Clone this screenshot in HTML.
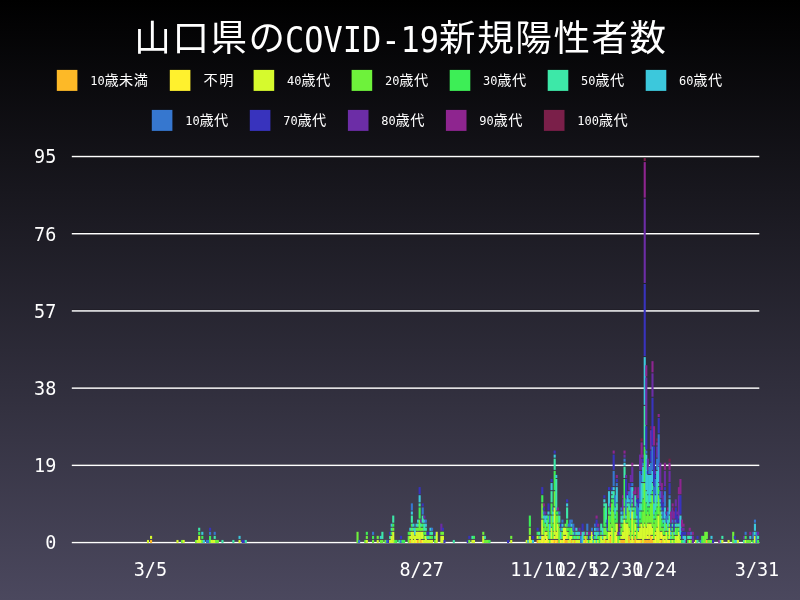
<!DOCTYPE html>
<html lang="ja"><head><meta charset="utf-8"><title>山口県のCOVID-19新規陽性者数</title>
<style>
html,body{margin:0;padding:0;background:#000;}
body{width:800px;height:600px;overflow:hidden;}
svg{display:block;}
text{font-family:"DejaVu Sans Mono","Liberation Mono","Noto Sans CJK JP",monospace;fill:#fff;}
.tj{font-size:36.5px;letter-spacing:1.6px;}
.cj{font-size:14.2px;letter-spacing:0.5px;}
</style></head><body>
<svg width="800" height="600" viewBox="0 0 800 600">
<defs><linearGradient id="bg" x1="0" y1="0" x2="0" y2="1"><stop offset="0" stop-color="#000"/><stop offset="1" stop-color="#4b485e"/></linearGradient></defs>
<rect width="800" height="600" fill="url(#bg)"/>
<text class="tj" x="134.3" y="51.3">山口県の</text><text font-size="32" transform="translate(285,52.3) scale(1,1.09)">COVID-19</text><text class="tj" x="439.1" y="51.3">新規陽性者数</text>
<rect x="56.8" y="69.9" width="20.6" height="21" fill="#FDB927"/><text font-size="12" transform="translate(90.2,84.7) scale(1,1.07)">10</text><text class="cj" x="104.4" y="84.8">歳未満</text>
<rect x="169.8" y="69.9" width="20.6" height="21" fill="#FFF12E"/><text class="cj" style="letter-spacing:1.7px" x="203.4" y="84.8">不明</text>
<rect x="253.6" y="69.9" width="20.6" height="21" fill="#D6FA2D"/><text font-size="12" transform="translate(287.0,84.7) scale(1,1.07)">40</text><text class="cj" x="301.2" y="84.8">歳代</text>
<rect x="351.6" y="69.9" width="20.6" height="21" fill="#6EF23B"/><text font-size="12" transform="translate(385.0,84.7) scale(1,1.07)">20</text><text class="cj" x="399.2" y="84.8">歳代</text>
<rect x="449.7" y="69.9" width="20.6" height="21" fill="#3DEE56"/><text font-size="12" transform="translate(483.1,84.7) scale(1,1.07)">30</text><text class="cj" x="497.3" y="84.8">歳代</text>
<rect x="547.7" y="69.9" width="20.6" height="21" fill="#3DE8A8"/><text font-size="12" transform="translate(581.1,84.7) scale(1,1.07)">50</text><text class="cj" x="595.3" y="84.8">歳代</text>
<rect x="645.7" y="69.9" width="20.6" height="21" fill="#3CC8DC"/><text font-size="12" transform="translate(679.1,84.7) scale(1,1.07)">60</text><text class="cj" x="693.3" y="84.8">歳代</text>
<rect x="151.8" y="109.9" width="20.6" height="21" fill="#3677CF"/><text font-size="12" transform="translate(185.2,124.7) scale(1,1.07)">10</text><text class="cj" x="199.4" y="124.8">歳代</text>
<rect x="249.8" y="109.9" width="20.6" height="21" fill="#3833BD"/><text font-size="12" transform="translate(283.2,124.7) scale(1,1.07)">70</text><text class="cj" x="297.4" y="124.8">歳代</text>
<rect x="347.9" y="109.9" width="20.6" height="21" fill="#6C2DA6"/><text font-size="12" transform="translate(381.3,124.7) scale(1,1.07)">80</text><text class="cj" x="395.5" y="124.8">歳代</text>
<rect x="445.9" y="109.9" width="20.6" height="21" fill="#8E258F"/><text font-size="12" transform="translate(479.3,124.7) scale(1,1.07)">90</text><text class="cj" x="493.5" y="124.8">歳代</text>
<rect x="543.9" y="109.9" width="20.6" height="21" fill="#7A1F49"/><text font-size="12" transform="translate(577.3,124.7) scale(1,1.07)">100</text><text class="cj" x="598.8" y="124.8">歳代</text>
<rect x="71.8" y="155.30" width="687.5" height="0.6" fill="#000" fill-opacity="0.5"/><rect x="71.8" y="155.80" width="687.5" height="1.45" fill="#fff"/><text font-size="18" text-anchor="end" transform="translate(56.3,163.2) scale(1.025,1.08)">95</text>
<rect x="71.8" y="232.50" width="687.5" height="0.6" fill="#000" fill-opacity="0.5"/><rect x="71.8" y="233.00" width="687.5" height="1.45" fill="#fff"/><text font-size="18" text-anchor="end" transform="translate(56.3,240.5) scale(1.025,1.08)">76</text>
<rect x="71.8" y="309.70" width="687.5" height="0.6" fill="#000" fill-opacity="0.5"/><rect x="71.8" y="310.20" width="687.5" height="1.45" fill="#fff"/><text font-size="18" text-anchor="end" transform="translate(56.3,317.7) scale(1.025,1.08)">57</text>
<rect x="71.8" y="386.90" width="687.5" height="0.6" fill="#000" fill-opacity="0.5"/><rect x="71.8" y="387.40" width="687.5" height="1.45" fill="#fff"/><text font-size="18" text-anchor="end" transform="translate(56.3,394.9) scale(1.025,1.08)">38</text>
<rect x="71.8" y="464.10" width="687.5" height="0.6" fill="#000" fill-opacity="0.5"/><rect x="71.8" y="464.60" width="687.5" height="1.45" fill="#fff"/><text font-size="18" text-anchor="end" transform="translate(56.3,472.1) scale(1.025,1.08)">19</text>
<rect x="71.8" y="541.30" width="687.5" height="0.6" fill="#000" fill-opacity="0.5"/><rect x="71.8" y="541.80" width="687.5" height="1.45" fill="#fff"/><text font-size="18" text-anchor="end" transform="translate(56.3,549.2) scale(1.025,1.08)">0</text>
<text font-size="18" text-anchor="middle" transform="translate(150.4,576.1) scale(1.025,1.08)">3/5</text>
<text font-size="18" text-anchor="middle" transform="translate(421.7,576.1) scale(1.025,1.08)">8/27</text>
<text font-size="18" text-anchor="middle" transform="translate(538.1,576.1) scale(1.025,1.08)">11/10</text>
<text font-size="18" text-anchor="middle" transform="translate(576.9,576.1) scale(1.025,1.08)">12/5</text>
<text font-size="18" text-anchor="middle" transform="translate(615.7,576.1) scale(1.025,1.08)">12/30</text>
<text font-size="18" text-anchor="middle" transform="translate(654.5,576.1) scale(1.025,1.08)">1/24</text>
<text font-size="18" text-anchor="middle" transform="translate(757.0,576.1) scale(1.025,1.08)">3/31</text>
<g id="bars"><g fill="#D6FA2D"><rect x="146.92" y="539.94" width="2.1" height="3.06"/></g><g fill="#FDB927"><rect x="150.02" y="539.94" width="2.1" height="3.06"/></g><g fill="#D6FA2D"><rect x="150.02" y="535.87" width="2.1" height="3.06"/><rect x="176.41" y="539.94" width="2.1" height="3.06"/></g><g fill="#6EF23B"><rect x="181.07" y="539.94" width="2.1" height="3.06"/></g><g fill="#D6FA2D"><rect x="182.62" y="539.94" width="2.1" height="3.06"/></g><g fill="#6EF23B"><rect x="195.04" y="539.94" width="2.1" height="3.06"/></g><g fill="#D6FA2D"><rect x="196.59" y="539.94" width="2.1" height="3.06"/><rect x="198.14" y="535.87" width="2.1" height="7.13"/></g><g fill="#3DEE56"><rect x="198.14" y="531.81" width="2.1" height="3.06"/></g><g fill="#3DE8A8"><rect x="198.14" y="527.75" width="2.1" height="3.06"/></g><g fill="#D6FA2D"><rect x="199.70" y="539.94" width="2.1" height="3.06"/></g><g fill="#6EF23B"><rect x="201.25" y="539.94" width="2.1" height="3.06"/></g><g fill="#3DEE56"><rect x="201.25" y="535.87" width="2.1" height="3.06"/></g><g fill="#3CC8DC"><rect x="201.25" y="531.81" width="2.1" height="3.06"/><rect x="202.80" y="539.94" width="2.1" height="3.06"/></g><g fill="#3677CF"><rect x="205.91" y="539.94" width="2.1" height="3.06"/><rect x="207.46" y="539.94" width="2.1" height="3.06"/></g><g fill="#3DEE56"><rect x="209.01" y="535.87" width="2.1" height="7.13"/></g><g fill="#3677CF"><rect x="209.01" y="531.81" width="2.1" height="3.06"/></g><g fill="#3833BD"><rect x="209.01" y="527.75" width="2.1" height="3.06"/></g><g fill="#D6FA2D"><rect x="210.56" y="539.94" width="2.1" height="3.06"/><rect x="212.12" y="539.94" width="2.1" height="3.06"/><rect x="213.67" y="539.94" width="2.1" height="3.06"/></g><g fill="#3DE8A8"><rect x="213.67" y="535.87" width="2.1" height="3.06"/></g><g fill="#3677CF"><rect x="213.67" y="531.81" width="2.1" height="3.06"/></g><g fill="#6EF23B"><rect x="215.22" y="539.94" width="2.1" height="3.06"/><rect x="216.77" y="539.94" width="2.1" height="3.06"/></g><g fill="#3DE8A8"><rect x="221.43" y="539.94" width="2.1" height="3.06"/><rect x="232.30" y="539.94" width="2.1" height="3.06"/></g><g fill="#D6FA2D"><rect x="238.51" y="539.94" width="2.1" height="3.06"/></g><g fill="#3CC8DC"><rect x="238.51" y="535.87" width="2.1" height="3.06"/></g><g fill="#3833BD"><rect x="241.61" y="539.94" width="2.1" height="3.06"/><rect x="243.16" y="539.94" width="2.1" height="3.06"/></g><g fill="#3DE8A8"><rect x="244.72" y="539.94" width="2.1" height="3.06"/></g><g fill="#6EF23B"><rect x="356.49" y="531.81" width="2.1" height="11.19"/></g><g fill="#3677CF"><rect x="358.04" y="539.94" width="2.1" height="3.06"/></g><g fill="#6EF23B"><rect x="364.25" y="539.94" width="2.1" height="3.06"/></g><g fill="#D6FA2D"><rect x="365.80" y="539.94" width="2.1" height="3.06"/></g><g fill="#6EF23B"><rect x="365.80" y="535.87" width="2.1" height="3.06"/></g><g fill="#3DEE56"><rect x="365.80" y="531.81" width="2.1" height="3.06"/></g><g fill="#6EF23B"><rect x="372.01" y="539.94" width="2.1" height="3.06"/></g><g fill="#3DEE56"><rect x="372.01" y="535.87" width="2.1" height="3.06"/></g><g fill="#3677CF"><rect x="372.01" y="531.81" width="2.1" height="3.06"/></g><g fill="#D6FA2D"><rect x="376.67" y="539.94" width="2.1" height="3.06"/></g><g fill="#6EF23B"><rect x="376.67" y="535.87" width="2.1" height="3.06"/><rect x="379.78" y="539.94" width="2.1" height="3.06"/></g><g fill="#3CC8DC"><rect x="379.78" y="535.87" width="2.1" height="3.06"/></g><g fill="#6EF23B"><rect x="381.33" y="539.94" width="2.1" height="3.06"/></g><g fill="#3DE8A8"><rect x="381.33" y="531.81" width="2.1" height="7.13"/></g><g fill="#6EF23B"><rect x="384.43" y="539.94" width="2.1" height="3.06"/></g><g fill="#3677CF"><rect x="385.98" y="539.94" width="2.1" height="3.06"/></g><g fill="#3833BD"><rect x="387.54" y="539.94" width="2.1" height="3.06"/></g><g fill="#D6FA2D"><rect x="389.09" y="539.94" width="2.1" height="3.06"/></g><g fill="#3DE8A8"><rect x="389.09" y="535.87" width="2.1" height="3.06"/></g><g fill="#3833BD"><rect x="389.09" y="531.81" width="2.1" height="3.06"/></g><g fill="#D6FA2D"><rect x="390.64" y="535.87" width="2.1" height="7.13"/></g><g fill="#3DEE56"><rect x="390.64" y="531.81" width="2.1" height="3.06"/></g><g fill="#3DE8A8"><rect x="390.64" y="527.75" width="2.1" height="3.06"/></g><g fill="#3CC8DC"><rect x="390.64" y="523.68" width="2.1" height="3.06"/></g><g fill="#D6FA2D"><rect x="392.19" y="531.81" width="2.1" height="11.19"/></g><g fill="#6EF23B"><rect x="392.19" y="527.75" width="2.1" height="3.06"/></g><g fill="#3DEE56"><rect x="392.19" y="523.68" width="2.1" height="3.06"/></g><g fill="#3DE8A8"><rect x="392.19" y="515.56" width="2.1" height="7.13"/></g><g fill="#6EF23B"><rect x="393.75" y="539.94" width="2.1" height="3.06"/></g><g fill="#3DEE56"><rect x="395.30" y="539.94" width="2.1" height="3.06"/></g><g fill="#3DE8A8"><rect x="398.40" y="539.94" width="2.1" height="3.06"/></g><g fill="#3677CF"><rect x="399.96" y="539.94" width="2.1" height="3.06"/></g><g fill="#3833BD"><rect x="399.96" y="535.87" width="2.1" height="3.06"/></g><g fill="#3DEE56"><rect x="401.51" y="539.94" width="2.1" height="3.06"/><rect x="403.06" y="539.94" width="2.1" height="3.06"/></g><g fill="#6EF23B"><rect x="407.72" y="535.87" width="2.1" height="7.13"/></g><g fill="#3DEE56"><rect x="407.72" y="531.81" width="2.1" height="3.06"/></g><g fill="#FDB927"><rect x="409.27" y="539.94" width="2.1" height="3.06"/></g><g fill="#D6FA2D"><rect x="409.27" y="535.87" width="2.1" height="3.06"/></g><g fill="#6EF23B"><rect x="409.27" y="531.81" width="2.1" height="3.06"/></g><g fill="#3CC8DC"><rect x="409.27" y="527.75" width="2.1" height="3.06"/></g><g fill="#D6FA2D"><rect x="410.82" y="531.81" width="2.1" height="11.19"/></g><g fill="#6EF23B"><rect x="410.82" y="527.75" width="2.1" height="3.06"/></g><g fill="#3DEE56"><rect x="410.82" y="523.68" width="2.1" height="3.06"/></g><g fill="#3DE8A8"><rect x="410.82" y="515.56" width="2.1" height="7.13"/></g><g fill="#3CC8DC"><rect x="410.82" y="511.50" width="2.1" height="3.06"/></g><g fill="#3677CF"><rect x="410.82" y="503.37" width="2.1" height="7.13"/></g><g fill="#FFF12E"><rect x="412.38" y="539.94" width="2.1" height="3.06"/></g><g fill="#D6FA2D"><rect x="412.38" y="531.81" width="2.1" height="7.13"/></g><g fill="#3DE8A8"><rect x="412.38" y="527.75" width="2.1" height="3.06"/></g><g fill="#3CC8DC"><rect x="412.38" y="523.68" width="2.1" height="3.06"/></g><g fill="#D6FA2D"><rect x="413.93" y="535.87" width="2.1" height="7.13"/></g><g fill="#3CC8DC"><rect x="413.93" y="527.75" width="2.1" height="7.13"/></g><g fill="#FFF12E"><rect x="415.48" y="539.94" width="2.1" height="3.06"/></g><g fill="#D6FA2D"><rect x="415.48" y="531.81" width="2.1" height="7.13"/></g><g fill="#6EF23B"><rect x="415.48" y="527.75" width="2.1" height="3.06"/></g><g fill="#3CC8DC"><rect x="415.48" y="523.68" width="2.1" height="3.06"/></g><g fill="#FDB927"><rect x="417.03" y="539.94" width="2.1" height="3.06"/></g><g fill="#D6FA2D"><rect x="417.03" y="531.81" width="2.1" height="7.13"/></g><g fill="#6EF23B"><rect x="417.03" y="527.75" width="2.1" height="3.06"/></g><g fill="#3DE8A8"><rect x="417.03" y="523.68" width="2.1" height="3.06"/></g><g fill="#3CC8DC"><rect x="417.03" y="519.62" width="2.1" height="3.06"/></g><g fill="#D6FA2D"><rect x="418.59" y="531.81" width="2.1" height="11.19"/></g><g fill="#6EF23B"><rect x="418.59" y="519.62" width="2.1" height="11.19"/></g><g fill="#3DEE56"><rect x="418.59" y="507.43" width="2.1" height="11.19"/></g><g fill="#3DE8A8"><rect x="418.59" y="503.37" width="2.1" height="3.06"/></g><g fill="#3CC8DC"><rect x="418.59" y="495.24" width="2.1" height="7.13"/></g><g fill="#3833BD"><rect x="418.59" y="487.12" width="2.1" height="7.13"/></g><g fill="#FDB927"><rect x="420.14" y="539.94" width="2.1" height="3.06"/></g><g fill="#D6FA2D"><rect x="420.14" y="531.81" width="2.1" height="7.13"/></g><g fill="#6EF23B"><rect x="420.14" y="527.75" width="2.1" height="3.06"/></g><g fill="#3DE8A8"><rect x="420.14" y="523.68" width="2.1" height="3.06"/></g><g fill="#6C2DA6"><rect x="420.14" y="519.62" width="2.1" height="3.06"/></g><g fill="#FFF12E"><rect x="421.69" y="539.94" width="2.1" height="3.06"/></g><g fill="#D6FA2D"><rect x="421.69" y="531.81" width="2.1" height="7.13"/></g><g fill="#6EF23B"><rect x="421.69" y="527.75" width="2.1" height="3.06"/></g><g fill="#3DEE56"><rect x="421.69" y="523.68" width="2.1" height="3.06"/></g><g fill="#3DE8A8"><rect x="421.69" y="515.56" width="2.1" height="7.13"/></g><g fill="#3677CF"><rect x="421.69" y="507.43" width="2.1" height="7.13"/></g><g fill="#3833BD"><rect x="421.69" y="503.37" width="2.1" height="3.06"/></g><g fill="#D6FA2D"><rect x="423.24" y="539.94" width="2.1" height="3.06"/></g><g fill="#6EF23B"><rect x="423.24" y="535.87" width="2.1" height="3.06"/></g><g fill="#3DEE56"><rect x="423.24" y="531.81" width="2.1" height="3.06"/></g><g fill="#3DE8A8"><rect x="423.24" y="523.68" width="2.1" height="7.13"/></g><g fill="#3CC8DC"><rect x="423.24" y="519.62" width="2.1" height="3.06"/></g><g fill="#6C2DA6"><rect x="423.24" y="515.56" width="2.1" height="3.06"/></g><g fill="#D6FA2D"><rect x="424.79" y="535.87" width="2.1" height="7.13"/></g><g fill="#6EF23B"><rect x="424.79" y="531.81" width="2.1" height="3.06"/></g><g fill="#3DE8A8"><rect x="424.79" y="527.75" width="2.1" height="3.06"/></g><g fill="#3CC8DC"><rect x="424.79" y="523.68" width="2.1" height="3.06"/></g><g fill="#3677CF"><rect x="424.79" y="519.62" width="2.1" height="3.06"/></g><g fill="#D6FA2D"><rect x="426.35" y="539.94" width="2.1" height="3.06"/></g><g fill="#3DE8A8"><rect x="426.35" y="535.87" width="2.1" height="3.06"/></g><g fill="#3833BD"><rect x="426.35" y="531.81" width="2.1" height="3.06"/></g><g fill="#D6FA2D"><rect x="427.90" y="539.94" width="2.1" height="3.06"/></g><g fill="#3DE8A8"><rect x="427.90" y="535.87" width="2.1" height="3.06"/></g><g fill="#3833BD"><rect x="427.90" y="531.81" width="2.1" height="3.06"/></g><g fill="#D6FA2D"><rect x="429.45" y="539.94" width="2.1" height="3.06"/></g><g fill="#6EF23B"><rect x="429.45" y="535.87" width="2.1" height="3.06"/></g><g fill="#3DE8A8"><rect x="429.45" y="531.81" width="2.1" height="3.06"/></g><g fill="#3CC8DC"><rect x="429.45" y="527.75" width="2.1" height="3.06"/></g><g fill="#D6FA2D"><rect x="431.00" y="539.94" width="2.1" height="3.06"/></g><g fill="#3DEE56"><rect x="431.00" y="535.87" width="2.1" height="3.06"/></g><g fill="#3DE8A8"><rect x="431.00" y="531.81" width="2.1" height="3.06"/></g><g fill="#3677CF"><rect x="431.00" y="527.75" width="2.1" height="3.06"/></g><g fill="#6EF23B"><rect x="434.11" y="539.94" width="2.1" height="3.06"/></g><g fill="#3DE8A8"><rect x="434.11" y="535.87" width="2.1" height="3.06"/></g><g fill="#3833BD"><rect x="434.11" y="531.81" width="2.1" height="3.06"/></g><g fill="#D6FA2D"><rect x="435.66" y="531.81" width="2.1" height="11.19"/><rect x="440.32" y="535.87" width="2.1" height="7.13"/></g><g fill="#6EF23B"><rect x="440.32" y="531.81" width="2.1" height="3.06"/></g><g fill="#6C2DA6"><rect x="440.32" y="523.68" width="2.1" height="7.13"/></g><g fill="#D6FA2D"><rect x="441.87" y="535.87" width="2.1" height="7.13"/></g><g fill="#6EF23B"><rect x="441.87" y="531.81" width="2.1" height="3.06"/></g><g fill="#3833BD"><rect x="441.87" y="527.75" width="2.1" height="3.06"/><rect x="443.42" y="539.94" width="2.1" height="3.06"/></g><g fill="#3DE8A8"><rect x="452.74" y="539.94" width="2.1" height="3.06"/></g><g fill="#3833BD"><rect x="466.71" y="539.94" width="2.1" height="3.06"/></g><g fill="#6EF23B"><rect x="468.26" y="539.94" width="2.1" height="3.06"/></g><g fill="#3833BD"><rect x="468.26" y="535.87" width="2.1" height="3.06"/></g><g fill="#D6FA2D"><rect x="471.37" y="539.94" width="2.1" height="3.06"/></g><g fill="#3DE8A8"><rect x="471.37" y="535.87" width="2.1" height="3.06"/></g><g fill="#D6FA2D"><rect x="472.92" y="539.94" width="2.1" height="3.06"/></g><g fill="#3DEE56"><rect x="472.92" y="535.87" width="2.1" height="3.06"/></g><g fill="#D6FA2D"><rect x="482.23" y="535.87" width="2.1" height="7.13"/></g><g fill="#6EF23B"><rect x="482.23" y="531.81" width="2.1" height="3.06"/><rect x="483.79" y="539.94" width="2.1" height="3.06"/></g><g fill="#3DE8A8"><rect x="483.79" y="535.87" width="2.1" height="3.06"/></g><g fill="#6EF23B"><rect x="485.34" y="539.94" width="2.1" height="3.06"/><rect x="486.89" y="539.94" width="2.1" height="3.06"/></g><g fill="#3DEE56"><rect x="488.44" y="539.94" width="2.1" height="3.06"/></g><g fill="#3833BD"><rect x="507.07" y="539.94" width="2.1" height="3.06"/></g><g fill="#D6FA2D"><rect x="510.18" y="539.94" width="2.1" height="3.06"/></g><g fill="#6EF23B"><rect x="510.18" y="535.87" width="2.1" height="3.06"/></g><g fill="#D6FA2D"><rect x="525.70" y="539.94" width="2.1" height="3.06"/></g><g fill="#3CC8DC"><rect x="527.25" y="539.94" width="2.1" height="3.06"/></g><g fill="#D6FA2D"><rect x="528.81" y="535.87" width="2.1" height="7.13"/></g><g fill="#6EF23B"><rect x="528.81" y="527.75" width="2.1" height="7.13"/></g><g fill="#3DEE56"><rect x="528.81" y="515.56" width="2.1" height="11.19"/></g><g fill="#D6FA2D"><rect x="530.36" y="539.94" width="2.1" height="3.06"/></g><g fill="#3CC8DC"><rect x="531.91" y="539.94" width="2.1" height="3.06"/></g><g fill="#3833BD"><rect x="531.91" y="535.87" width="2.1" height="3.06"/></g><g fill="#FDB927"><rect x="536.57" y="539.94" width="2.1" height="3.06"/></g><g fill="#D6FA2D"><rect x="536.57" y="535.87" width="2.1" height="3.06"/></g><g fill="#3DEE56"><rect x="536.57" y="531.81" width="2.1" height="3.06"/></g><g fill="#3833BD"><rect x="536.57" y="527.75" width="2.1" height="3.06"/></g><g fill="#D6FA2D"><rect x="538.12" y="539.94" width="2.1" height="3.06"/></g><g fill="#6EF23B"><rect x="538.12" y="535.87" width="2.1" height="3.06"/></g><g fill="#3DE8A8"><rect x="538.12" y="531.81" width="2.1" height="3.06"/></g><g fill="#D6FA2D"><rect x="539.67" y="539.94" width="2.1" height="3.06"/></g><g fill="#3CC8DC"><rect x="539.67" y="535.87" width="2.1" height="3.06"/></g><g fill="#FFF12E"><rect x="541.22" y="535.87" width="2.1" height="7.13"/></g><g fill="#D6FA2D"><rect x="541.22" y="519.62" width="2.1" height="15.25"/></g><g fill="#6EF23B"><rect x="541.22" y="503.37" width="2.1" height="15.25"/></g><g fill="#3DEE56"><rect x="541.22" y="495.24" width="2.1" height="7.13"/></g><g fill="#3833BD"><rect x="541.22" y="487.12" width="2.1" height="7.13"/></g><g fill="#D6FA2D"><rect x="542.78" y="535.87" width="2.1" height="7.13"/></g><g fill="#6EF23B"><rect x="542.78" y="527.75" width="2.1" height="7.13"/></g><g fill="#3DEE56"><rect x="542.78" y="519.62" width="2.1" height="7.13"/></g><g fill="#3CC8DC"><rect x="542.78" y="515.56" width="2.1" height="3.06"/></g><g fill="#3677CF"><rect x="542.78" y="511.50" width="2.1" height="3.06"/></g><g fill="#3833BD"><rect x="542.78" y="507.43" width="2.1" height="3.06"/></g><g fill="#8E258F"><rect x="542.78" y="503.37" width="2.1" height="3.06"/></g><g fill="#FFF12E"><rect x="544.33" y="539.94" width="2.1" height="3.06"/></g><g fill="#D6FA2D"><rect x="544.33" y="531.81" width="2.1" height="7.13"/></g><g fill="#6EF23B"><rect x="544.33" y="523.68" width="2.1" height="7.13"/></g><g fill="#3CC8DC"><rect x="544.33" y="515.56" width="2.1" height="7.13"/></g><g fill="#6C2DA6"><rect x="544.33" y="511.50" width="2.1" height="3.06"/></g><g fill="#FFF12E"><rect x="545.88" y="535.87" width="2.1" height="7.13"/></g><g fill="#D6FA2D"><rect x="545.88" y="531.81" width="2.1" height="3.06"/></g><g fill="#3DEE56"><rect x="545.88" y="527.75" width="2.1" height="3.06"/></g><g fill="#3DE8A8"><rect x="545.88" y="519.62" width="2.1" height="7.13"/></g><g fill="#3CC8DC"><rect x="545.88" y="515.56" width="2.1" height="3.06"/></g><g fill="#D6FA2D"><rect x="547.43" y="539.94" width="2.1" height="3.06"/></g><g fill="#6EF23B"><rect x="547.43" y="523.68" width="2.1" height="15.25"/></g><g fill="#3DEE56"><rect x="547.43" y="515.56" width="2.1" height="7.13"/></g><g fill="#3CC8DC"><rect x="547.43" y="511.50" width="2.1" height="3.06"/></g><g fill="#3833BD"><rect x="547.43" y="503.37" width="2.1" height="7.13"/></g><g fill="#6EF23B"><rect x="548.99" y="539.94" width="2.1" height="3.06"/></g><g fill="#3DE8A8"><rect x="548.99" y="531.81" width="2.1" height="7.13"/></g><g fill="#3CC8DC"><rect x="548.99" y="523.68" width="2.1" height="7.13"/></g><g fill="#3677CF"><rect x="548.99" y="515.56" width="2.1" height="7.13"/></g><g fill="#FFF12E"><rect x="550.54" y="539.94" width="2.1" height="3.06"/></g><g fill="#D6FA2D"><rect x="550.54" y="527.75" width="2.1" height="11.19"/></g><g fill="#6EF23B"><rect x="550.54" y="515.56" width="2.1" height="11.19"/></g><g fill="#3DEE56"><rect x="550.54" y="503.37" width="2.1" height="11.19"/></g><g fill="#3DE8A8"><rect x="550.54" y="491.18" width="2.1" height="11.19"/></g><g fill="#3CC8DC"><rect x="550.54" y="483.06" width="2.1" height="7.13"/></g><g fill="#3833BD"><rect x="550.54" y="478.99" width="2.1" height="3.06"/></g><g fill="#FFF12E"><rect x="552.09" y="539.94" width="2.1" height="3.06"/></g><g fill="#6EF23B"><rect x="552.09" y="531.81" width="2.1" height="7.13"/></g><g fill="#3DEE56"><rect x="552.09" y="523.68" width="2.1" height="7.13"/></g><g fill="#3DE8A8"><rect x="552.09" y="515.56" width="2.1" height="7.13"/></g><g fill="#3CC8DC"><rect x="552.09" y="511.50" width="2.1" height="3.06"/></g><g fill="#3677CF"><rect x="552.09" y="507.43" width="2.1" height="3.06"/></g><g fill="#FDB927"><rect x="553.64" y="539.94" width="2.1" height="3.06"/></g><g fill="#FFF12E"><rect x="553.64" y="535.87" width="2.1" height="3.06"/></g><g fill="#D6FA2D"><rect x="553.64" y="507.43" width="2.1" height="27.44"/></g><g fill="#6EF23B"><rect x="553.64" y="491.18" width="2.1" height="15.25"/></g><g fill="#3DEE56"><rect x="553.64" y="470.87" width="2.1" height="19.31"/></g><g fill="#3DE8A8"><rect x="553.64" y="458.68" width="2.1" height="11.19"/></g><g fill="#3CC8DC"><rect x="553.64" y="454.61" width="2.1" height="3.06"/></g><g fill="#3833BD"><rect x="553.64" y="450.55" width="2.1" height="3.06"/></g><g fill="#FFF12E"><rect x="555.20" y="539.94" width="2.1" height="3.06"/></g><g fill="#D6FA2D"><rect x="555.20" y="531.81" width="2.1" height="7.13"/></g><g fill="#6EF23B"><rect x="555.20" y="515.56" width="2.1" height="15.25"/></g><g fill="#3DEE56"><rect x="555.20" y="511.50" width="2.1" height="3.06"/></g><g fill="#3DE8A8"><rect x="555.20" y="478.99" width="2.1" height="31.50"/></g><g fill="#3CC8DC"><rect x="555.20" y="474.93" width="2.1" height="3.06"/></g><g fill="#FDB927"><rect x="556.75" y="539.94" width="2.1" height="3.06"/></g><g fill="#D6FA2D"><rect x="556.75" y="523.68" width="2.1" height="15.25"/></g><g fill="#6EF23B"><rect x="556.75" y="515.56" width="2.1" height="7.13"/></g><g fill="#3DEE56"><rect x="556.75" y="511.50" width="2.1" height="3.06"/></g><g fill="#8E258F"><rect x="556.75" y="507.43" width="2.1" height="3.06"/></g><g fill="#6EF23B"><rect x="558.30" y="527.75" width="2.1" height="15.25"/></g><g fill="#3DEE56"><rect x="558.30" y="523.68" width="2.1" height="3.06"/></g><g fill="#3DE8A8"><rect x="558.30" y="515.56" width="2.1" height="7.13"/></g><g fill="#3677CF"><rect x="558.30" y="511.50" width="2.1" height="3.06"/></g><g fill="#FFF12E"><rect x="559.85" y="539.94" width="2.1" height="3.06"/></g><g fill="#3CC8DC"><rect x="559.85" y="531.81" width="2.1" height="7.13"/></g><g fill="#3677CF"><rect x="559.85" y="527.75" width="2.1" height="3.06"/></g><g fill="#3833BD"><rect x="559.85" y="523.68" width="2.1" height="3.06"/></g><g fill="#D6FA2D"><rect x="561.41" y="539.94" width="2.1" height="3.06"/></g><g fill="#6EF23B"><rect x="561.41" y="531.81" width="2.1" height="7.13"/></g><g fill="#3DE8A8"><rect x="561.41" y="527.75" width="2.1" height="3.06"/></g><g fill="#3CC8DC"><rect x="561.41" y="523.68" width="2.1" height="3.06"/></g><g fill="#3677CF"><rect x="561.41" y="519.62" width="2.1" height="3.06"/></g><g fill="#FFF12E"><rect x="562.96" y="535.87" width="2.1" height="7.13"/></g><g fill="#D6FA2D"><rect x="562.96" y="527.75" width="2.1" height="7.13"/></g><g fill="#FDB927"><rect x="564.51" y="539.94" width="2.1" height="3.06"/></g><g fill="#FFF12E"><rect x="564.51" y="535.87" width="2.1" height="3.06"/></g><g fill="#D6FA2D"><rect x="564.51" y="527.75" width="2.1" height="7.13"/></g><g fill="#6EF23B"><rect x="564.51" y="523.68" width="2.1" height="3.06"/></g><g fill="#FDB927"><rect x="566.06" y="539.94" width="2.1" height="3.06"/></g><g fill="#D6FA2D"><rect x="566.06" y="531.81" width="2.1" height="7.13"/></g><g fill="#6EF23B"><rect x="566.06" y="527.75" width="2.1" height="3.06"/></g><g fill="#3DEE56"><rect x="566.06" y="519.62" width="2.1" height="7.13"/></g><g fill="#3DE8A8"><rect x="566.06" y="507.43" width="2.1" height="11.19"/></g><g fill="#3CC8DC"><rect x="566.06" y="503.37" width="2.1" height="3.06"/></g><g fill="#3833BD"><rect x="566.06" y="499.31" width="2.1" height="3.06"/></g><g fill="#D6FA2D"><rect x="567.62" y="539.94" width="2.1" height="3.06"/></g><g fill="#6EF23B"><rect x="567.62" y="531.81" width="2.1" height="7.13"/></g><g fill="#3DEE56"><rect x="567.62" y="527.75" width="2.1" height="3.06"/></g><g fill="#3677CF"><rect x="567.62" y="523.68" width="2.1" height="3.06"/></g><g fill="#D6FA2D"><rect x="569.17" y="535.87" width="2.1" height="7.13"/></g><g fill="#3DEE56"><rect x="569.17" y="527.75" width="2.1" height="7.13"/></g><g fill="#3677CF"><rect x="569.17" y="519.62" width="2.1" height="7.13"/></g><g fill="#FDB927"><rect x="570.72" y="539.94" width="2.1" height="3.06"/></g><g fill="#D6FA2D"><rect x="570.72" y="535.87" width="2.1" height="3.06"/></g><g fill="#6EF23B"><rect x="570.72" y="527.75" width="2.1" height="7.13"/></g><g fill="#3CC8DC"><rect x="570.72" y="523.68" width="2.1" height="3.06"/></g><g fill="#3677CF"><rect x="570.72" y="519.62" width="2.1" height="3.06"/></g><g fill="#D6FA2D"><rect x="572.27" y="539.94" width="2.1" height="3.06"/></g><g fill="#3DEE56"><rect x="572.27" y="535.87" width="2.1" height="3.06"/></g><g fill="#3DE8A8"><rect x="572.27" y="531.81" width="2.1" height="3.06"/></g><g fill="#3677CF"><rect x="572.27" y="523.68" width="2.1" height="7.13"/></g><g fill="#FDB927"><rect x="573.83" y="539.94" width="2.1" height="3.06"/></g><g fill="#3DE8A8"><rect x="573.83" y="535.87" width="2.1" height="3.06"/></g><g fill="#3677CF"><rect x="573.83" y="531.81" width="2.1" height="3.06"/></g><g fill="#6C2DA6"><rect x="573.83" y="527.75" width="2.1" height="3.06"/></g><g fill="#D6FA2D"><rect x="575.38" y="539.94" width="2.1" height="3.06"/></g><g fill="#6EF23B"><rect x="575.38" y="535.87" width="2.1" height="3.06"/></g><g fill="#3DE8A8"><rect x="575.38" y="531.81" width="2.1" height="3.06"/></g><g fill="#3CC8DC"><rect x="575.38" y="527.75" width="2.1" height="3.06"/></g><g fill="#D6FA2D"><rect x="576.93" y="539.94" width="2.1" height="3.06"/></g><g fill="#3DE8A8"><rect x="576.93" y="535.87" width="2.1" height="3.06"/></g><g fill="#3CC8DC"><rect x="576.93" y="531.81" width="2.1" height="3.06"/></g><g fill="#D6FA2D"><rect x="578.48" y="539.94" width="2.1" height="3.06"/></g><g fill="#6EF23B"><rect x="578.48" y="535.87" width="2.1" height="3.06"/></g><g fill="#3CC8DC"><rect x="578.48" y="531.81" width="2.1" height="3.06"/></g><g fill="#6C2DA6"><rect x="578.48" y="527.75" width="2.1" height="3.06"/></g><g fill="#3677CF"><rect x="580.03" y="535.87" width="2.1" height="7.13"/></g><g fill="#8E258F"><rect x="580.03" y="531.81" width="2.1" height="3.06"/></g><g fill="#3CC8DC"><rect x="581.59" y="531.81" width="2.1" height="11.19"/></g><g fill="#3833BD"><rect x="581.59" y="523.68" width="2.1" height="7.13"/></g><g fill="#D6FA2D"><rect x="583.14" y="539.94" width="2.1" height="3.06"/></g><g fill="#6EF23B"><rect x="583.14" y="535.87" width="2.1" height="3.06"/></g><g fill="#3DE8A8"><rect x="583.14" y="531.81" width="2.1" height="3.06"/></g><g fill="#FDB927"><rect x="584.69" y="535.87" width="2.1" height="7.13"/></g><g fill="#8E258F"><rect x="584.69" y="531.81" width="2.1" height="3.06"/></g><g fill="#D6FA2D"><rect x="586.24" y="539.94" width="2.1" height="3.06"/></g><g fill="#6EF23B"><rect x="586.24" y="535.87" width="2.1" height="3.06"/></g><g fill="#3DE8A8"><rect x="586.24" y="531.81" width="2.1" height="3.06"/></g><g fill="#3677CF"><rect x="586.24" y="523.68" width="2.1" height="7.13"/></g><g fill="#3DEE56"><rect x="587.80" y="539.94" width="2.1" height="3.06"/></g><g fill="#3833BD"><rect x="587.80" y="535.87" width="2.1" height="3.06"/></g><g fill="#8E258F"><rect x="587.80" y="531.81" width="2.1" height="3.06"/></g><g fill="#D6FA2D"><rect x="589.35" y="539.94" width="2.1" height="3.06"/></g><g fill="#3DEE56"><rect x="589.35" y="535.87" width="2.1" height="3.06"/></g><g fill="#6C2DA6"><rect x="589.35" y="531.81" width="2.1" height="3.06"/></g><g fill="#D6FA2D"><rect x="590.90" y="531.81" width="2.1" height="11.19"/></g><g fill="#3677CF"><rect x="590.90" y="527.75" width="2.1" height="3.06"/></g><g fill="#3DE8A8"><rect x="592.45" y="539.94" width="2.1" height="3.06"/></g><g fill="#3677CF"><rect x="592.45" y="535.87" width="2.1" height="3.06"/></g><g fill="#3833BD"><rect x="592.45" y="531.81" width="2.1" height="3.06"/></g><g fill="#D6FA2D"><rect x="594.01" y="539.94" width="2.1" height="3.06"/></g><g fill="#3DEE56"><rect x="594.01" y="535.87" width="2.1" height="3.06"/></g><g fill="#3DE8A8"><rect x="594.01" y="531.81" width="2.1" height="3.06"/></g><g fill="#3CC8DC"><rect x="594.01" y="527.75" width="2.1" height="3.06"/></g><g fill="#3677CF"><rect x="594.01" y="523.68" width="2.1" height="3.06"/></g><g fill="#3DE8A8"><rect x="595.56" y="539.94" width="2.1" height="3.06"/></g><g fill="#3CC8DC"><rect x="595.56" y="531.81" width="2.1" height="7.13"/></g><g fill="#3677CF"><rect x="595.56" y="527.75" width="2.1" height="3.06"/></g><g fill="#3833BD"><rect x="595.56" y="519.62" width="2.1" height="7.13"/></g><g fill="#8E258F"><rect x="595.56" y="515.56" width="2.1" height="3.06"/></g><g fill="#D6FA2D"><rect x="597.11" y="539.94" width="2.1" height="3.06"/></g><g fill="#6EF23B"><rect x="597.11" y="535.87" width="2.1" height="3.06"/></g><g fill="#3DE8A8"><rect x="597.11" y="531.81" width="2.1" height="3.06"/></g><g fill="#3677CF"><rect x="597.11" y="527.75" width="2.1" height="3.06"/></g><g fill="#8E258F"><rect x="597.11" y="523.68" width="2.1" height="3.06"/></g><g fill="#3DEE56"><rect x="598.66" y="535.87" width="2.1" height="7.13"/></g><g fill="#3677CF"><rect x="598.66" y="531.81" width="2.1" height="3.06"/></g><g fill="#6C2DA6"><rect x="598.66" y="527.75" width="2.1" height="3.06"/></g><g fill="#D6FA2D"><rect x="600.22" y="535.87" width="2.1" height="7.13"/></g><g fill="#3DEE56"><rect x="600.22" y="531.81" width="2.1" height="3.06"/></g><g fill="#3DE8A8"><rect x="600.22" y="523.68" width="2.1" height="7.13"/></g><g fill="#D6FA2D"><rect x="601.77" y="539.94" width="2.1" height="3.06"/></g><g fill="#3DE8A8"><rect x="601.77" y="535.87" width="2.1" height="3.06"/></g><g fill="#3CC8DC"><rect x="601.77" y="527.75" width="2.1" height="7.13"/></g><g fill="#D6FA2D"><rect x="603.32" y="535.87" width="2.1" height="7.13"/></g><g fill="#6EF23B"><rect x="603.32" y="527.75" width="2.1" height="7.13"/></g><g fill="#3DEE56"><rect x="603.32" y="507.43" width="2.1" height="19.31"/></g><g fill="#3DE8A8"><rect x="603.32" y="503.37" width="2.1" height="3.06"/></g><g fill="#3CC8DC"><rect x="603.32" y="499.31" width="2.1" height="3.06"/></g><g fill="#3833BD"><rect x="603.32" y="495.24" width="2.1" height="3.06"/></g><g fill="#FDB927"><rect x="604.87" y="539.94" width="2.1" height="3.06"/></g><g fill="#D6FA2D"><rect x="604.87" y="535.87" width="2.1" height="3.06"/></g><g fill="#6EF23B"><rect x="604.87" y="527.75" width="2.1" height="7.13"/></g><g fill="#3DEE56"><rect x="604.87" y="523.68" width="2.1" height="3.06"/></g><g fill="#3DE8A8"><rect x="604.87" y="503.37" width="2.1" height="19.31"/></g><g fill="#D6FA2D"><rect x="606.43" y="539.94" width="2.1" height="3.06"/></g><g fill="#6EF23B"><rect x="606.43" y="531.81" width="2.1" height="7.13"/></g><g fill="#3677CF"><rect x="606.43" y="527.75" width="2.1" height="3.06"/></g><g fill="#3833BD"><rect x="606.43" y="519.62" width="2.1" height="7.13"/></g><g fill="#D6FA2D"><rect x="607.98" y="531.81" width="2.1" height="11.19"/></g><g fill="#6EF23B"><rect x="607.98" y="515.56" width="2.1" height="15.25"/></g><g fill="#3DEE56"><rect x="607.98" y="507.43" width="2.1" height="7.13"/></g><g fill="#3CC8DC"><rect x="607.98" y="491.18" width="2.1" height="15.25"/></g><g fill="#3833BD"><rect x="607.98" y="487.12" width="2.1" height="3.06"/></g><g fill="#FDB927"><rect x="609.53" y="535.87" width="2.1" height="7.13"/></g><g fill="#D6FA2D"><rect x="609.53" y="531.81" width="2.1" height="3.06"/></g><g fill="#6EF23B"><rect x="609.53" y="523.68" width="2.1" height="7.13"/></g><g fill="#3DEE56"><rect x="609.53" y="515.56" width="2.1" height="7.13"/></g><g fill="#3DE8A8"><rect x="609.53" y="511.50" width="2.1" height="3.06"/></g><g fill="#3677CF"><rect x="609.53" y="507.43" width="2.1" height="3.06"/></g><g fill="#8E258F"><rect x="609.53" y="503.37" width="2.1" height="3.06"/></g><g fill="#D6FA2D"><rect x="611.08" y="527.75" width="2.1" height="15.25"/></g><g fill="#6EF23B"><rect x="611.08" y="503.37" width="2.1" height="23.38"/></g><g fill="#3DEE56"><rect x="611.08" y="499.31" width="2.1" height="3.06"/></g><g fill="#3DE8A8"><rect x="611.08" y="495.24" width="2.1" height="3.06"/></g><g fill="#3CC8DC"><rect x="611.08" y="491.18" width="2.1" height="3.06"/></g><g fill="#3833BD"><rect x="611.08" y="487.12" width="2.1" height="3.06"/></g><g fill="#6EF23B"><rect x="612.64" y="511.50" width="2.1" height="31.50"/></g><g fill="#3DEE56"><rect x="612.64" y="499.31" width="2.1" height="11.19"/></g><g fill="#3DE8A8"><rect x="612.64" y="491.18" width="2.1" height="7.13"/></g><g fill="#3CC8DC"><rect x="612.64" y="487.12" width="2.1" height="3.06"/></g><g fill="#3677CF"><rect x="612.64" y="470.87" width="2.1" height="15.25"/></g><g fill="#3833BD"><rect x="612.64" y="454.61" width="2.1" height="15.25"/></g><g fill="#8E258F"><rect x="612.64" y="450.55" width="2.1" height="3.06"/></g><g fill="#D6FA2D"><rect x="614.19" y="531.81" width="2.1" height="11.19"/></g><g fill="#6EF23B"><rect x="614.19" y="523.68" width="2.1" height="7.13"/></g><g fill="#3DEE56"><rect x="614.19" y="519.62" width="2.1" height="3.06"/></g><g fill="#3DE8A8"><rect x="614.19" y="515.56" width="2.1" height="3.06"/></g><g fill="#3CC8DC"><rect x="614.19" y="507.43" width="2.1" height="7.13"/></g><g fill="#3677CF"><rect x="614.19" y="495.24" width="2.1" height="11.19"/></g><g fill="#FFF12E"><rect x="615.74" y="535.87" width="2.1" height="7.13"/></g><g fill="#D6FA2D"><rect x="615.74" y="523.68" width="2.1" height="11.19"/></g><g fill="#3DEE56"><rect x="615.74" y="511.50" width="2.1" height="11.19"/></g><g fill="#3DE8A8"><rect x="615.74" y="503.37" width="2.1" height="7.13"/></g><g fill="#3CC8DC"><rect x="615.74" y="487.12" width="2.1" height="15.25"/></g><g fill="#3677CF"><rect x="615.74" y="483.06" width="2.1" height="3.06"/></g><g fill="#3833BD"><rect x="615.74" y="478.99" width="2.1" height="3.06"/></g><g fill="#8E258F"><rect x="615.74" y="474.93" width="2.1" height="3.06"/></g><g fill="#6EF23B"><rect x="617.29" y="535.87" width="2.1" height="7.13"/></g><g fill="#6C2DA6"><rect x="617.29" y="531.81" width="2.1" height="3.06"/></g><g fill="#D6FA2D"><rect x="618.84" y="539.94" width="2.1" height="3.06"/></g><g fill="#3DEE56"><rect x="618.84" y="535.87" width="2.1" height="3.06"/></g><g fill="#3677CF"><rect x="618.84" y="531.81" width="2.1" height="3.06"/></g><g fill="#6C2DA6"><rect x="618.84" y="527.75" width="2.1" height="3.06"/></g><g fill="#8E258F"><rect x="618.84" y="523.68" width="2.1" height="3.06"/></g><g fill="#FDB927"><rect x="620.40" y="539.94" width="2.1" height="3.06"/></g><g fill="#D6FA2D"><rect x="620.40" y="535.87" width="2.1" height="3.06"/></g><g fill="#6EF23B"><rect x="620.40" y="527.75" width="2.1" height="7.13"/></g><g fill="#3DEE56"><rect x="620.40" y="523.68" width="2.1" height="3.06"/></g><g fill="#3DE8A8"><rect x="620.40" y="515.56" width="2.1" height="7.13"/></g><g fill="#3CC8DC"><rect x="620.40" y="511.50" width="2.1" height="3.06"/></g><g fill="#3677CF"><rect x="620.40" y="507.43" width="2.1" height="3.06"/></g><g fill="#FDB927"><rect x="621.95" y="539.94" width="2.1" height="3.06"/></g><g fill="#D6FA2D"><rect x="621.95" y="531.81" width="2.1" height="7.13"/></g><g fill="#6EF23B"><rect x="621.95" y="523.68" width="2.1" height="7.13"/></g><g fill="#3DE8A8"><rect x="621.95" y="519.62" width="2.1" height="3.06"/></g><g fill="#3CC8DC"><rect x="621.95" y="515.56" width="2.1" height="3.06"/></g><g fill="#3677CF"><rect x="621.95" y="511.50" width="2.1" height="3.06"/></g><g fill="#6C2DA6"><rect x="621.95" y="499.31" width="2.1" height="11.19"/></g><g fill="#8E258F"><rect x="621.95" y="495.24" width="2.1" height="3.06"/></g><g fill="#FDB927"><rect x="623.50" y="539.94" width="2.1" height="3.06"/></g><g fill="#D6FA2D"><rect x="623.50" y="519.62" width="2.1" height="19.31"/></g><g fill="#6EF23B"><rect x="623.50" y="507.43" width="2.1" height="11.19"/></g><g fill="#3DEE56"><rect x="623.50" y="478.99" width="2.1" height="27.44"/></g><g fill="#3DE8A8"><rect x="623.50" y="466.80" width="2.1" height="11.19"/></g><g fill="#3CC8DC"><rect x="623.50" y="462.74" width="2.1" height="3.06"/></g><g fill="#3677CF"><rect x="623.50" y="458.68" width="2.1" height="3.06"/></g><g fill="#6C2DA6"><rect x="623.50" y="454.61" width="2.1" height="3.06"/></g><g fill="#8E258F"><rect x="623.50" y="450.55" width="2.1" height="3.06"/></g><g fill="#D6FA2D"><rect x="625.05" y="523.68" width="2.1" height="19.31"/></g><g fill="#3DEE56"><rect x="625.05" y="519.62" width="2.1" height="3.06"/></g><g fill="#3CC8DC"><rect x="625.05" y="515.56" width="2.1" height="3.06"/></g><g fill="#3677CF"><rect x="625.05" y="499.31" width="2.1" height="15.25"/></g><g fill="#3833BD"><rect x="625.05" y="478.99" width="2.1" height="19.31"/></g><g fill="#6C2DA6"><rect x="625.05" y="474.93" width="2.1" height="3.06"/></g><g fill="#D6FA2D"><rect x="626.61" y="523.68" width="2.1" height="19.31"/></g><g fill="#6EF23B"><rect x="626.61" y="507.43" width="2.1" height="15.25"/></g><g fill="#3DE8A8"><rect x="626.61" y="503.37" width="2.1" height="3.06"/></g><g fill="#3CC8DC"><rect x="626.61" y="495.24" width="2.1" height="7.13"/></g><g fill="#6C2DA6"><rect x="626.61" y="491.18" width="2.1" height="3.06"/></g><g fill="#FDB927"><rect x="628.16" y="535.87" width="2.1" height="7.13"/></g><g fill="#D6FA2D"><rect x="628.16" y="527.75" width="2.1" height="7.13"/></g><g fill="#6EF23B"><rect x="628.16" y="511.50" width="2.1" height="15.25"/></g><g fill="#3DE8A8"><rect x="628.16" y="503.37" width="2.1" height="7.13"/></g><g fill="#3CC8DC"><rect x="628.16" y="499.31" width="2.1" height="3.06"/></g><g fill="#3677CF"><rect x="628.16" y="491.18" width="2.1" height="7.13"/></g><g fill="#6C2DA6"><rect x="628.16" y="483.06" width="2.1" height="7.13"/></g><g fill="#D6FA2D"><rect x="629.71" y="539.94" width="2.1" height="3.06"/></g><g fill="#6EF23B"><rect x="629.71" y="531.81" width="2.1" height="7.13"/></g><g fill="#3DEE56"><rect x="629.71" y="519.62" width="2.1" height="11.19"/></g><g fill="#3CC8DC"><rect x="629.71" y="507.43" width="2.1" height="11.19"/></g><g fill="#3677CF"><rect x="629.71" y="487.12" width="2.1" height="19.31"/></g><g fill="#3833BD"><rect x="629.71" y="483.06" width="2.1" height="3.06"/></g><g fill="#6C2DA6"><rect x="629.71" y="474.93" width="2.1" height="7.13"/></g><g fill="#FFF12E"><rect x="631.26" y="535.87" width="2.1" height="7.13"/></g><g fill="#D6FA2D"><rect x="631.26" y="511.50" width="2.1" height="23.38"/></g><g fill="#6EF23B"><rect x="631.26" y="507.43" width="2.1" height="3.06"/></g><g fill="#3DEE56"><rect x="631.26" y="503.37" width="2.1" height="3.06"/></g><g fill="#3DE8A8"><rect x="631.26" y="499.31" width="2.1" height="3.06"/></g><g fill="#3CC8DC"><rect x="631.26" y="487.12" width="2.1" height="11.19"/></g><g fill="#3677CF"><rect x="631.26" y="483.06" width="2.1" height="3.06"/></g><g fill="#6C2DA6"><rect x="631.26" y="466.80" width="2.1" height="15.25"/></g><g fill="#8E258F"><rect x="631.26" y="462.74" width="2.1" height="3.06"/></g><g fill="#D6FA2D"><rect x="632.82" y="539.94" width="2.1" height="3.06"/></g><g fill="#6EF23B"><rect x="632.82" y="519.62" width="2.1" height="19.31"/></g><g fill="#3DE8A8"><rect x="632.82" y="511.50" width="2.1" height="7.13"/></g><g fill="#3CC8DC"><rect x="632.82" y="507.43" width="2.1" height="3.06"/></g><g fill="#6C2DA6"><rect x="632.82" y="495.24" width="2.1" height="11.19"/></g><g fill="#8E258F"><rect x="632.82" y="491.18" width="2.1" height="3.06"/></g><g fill="#FDB927"><rect x="634.37" y="535.87" width="2.1" height="7.13"/></g><g fill="#FFF12E"><rect x="634.37" y="531.81" width="2.1" height="3.06"/></g><g fill="#D6FA2D"><rect x="634.37" y="523.68" width="2.1" height="7.13"/></g><g fill="#6EF23B"><rect x="634.37" y="519.62" width="2.1" height="3.06"/></g><g fill="#3DEE56"><rect x="634.37" y="507.43" width="2.1" height="11.19"/></g><g fill="#3DE8A8"><rect x="634.37" y="495.24" width="2.1" height="11.19"/></g><g fill="#8E258F"><rect x="634.37" y="487.12" width="2.1" height="7.13"/></g><g fill="#FFF12E"><rect x="635.92" y="539.94" width="2.1" height="3.06"/></g><g fill="#6EF23B"><rect x="635.92" y="527.75" width="2.1" height="11.19"/></g><g fill="#3DEE56"><rect x="635.92" y="523.68" width="2.1" height="3.06"/></g><g fill="#3DE8A8"><rect x="635.92" y="519.62" width="2.1" height="3.06"/></g><g fill="#3CC8DC"><rect x="635.92" y="515.56" width="2.1" height="3.06"/></g><g fill="#3677CF"><rect x="635.92" y="503.37" width="2.1" height="11.19"/></g><g fill="#3833BD"><rect x="635.92" y="499.31" width="2.1" height="3.06"/></g><g fill="#6C2DA6"><rect x="635.92" y="495.24" width="2.1" height="3.06"/></g><g fill="#FFF12E"><rect x="637.47" y="539.94" width="2.1" height="3.06"/></g><g fill="#D6FA2D"><rect x="637.47" y="531.81" width="2.1" height="7.13"/></g><g fill="#3CC8DC"><rect x="637.47" y="527.75" width="2.1" height="3.06"/></g><g fill="#3677CF"><rect x="637.47" y="507.43" width="2.1" height="19.31"/></g><g fill="#3833BD"><rect x="637.47" y="499.31" width="2.1" height="7.13"/></g><g fill="#8E258F"><rect x="637.47" y="487.12" width="2.1" height="11.19"/></g><g fill="#FFF12E"><rect x="639.03" y="539.94" width="2.1" height="3.06"/></g><g fill="#D6FA2D"><rect x="639.03" y="527.75" width="2.1" height="11.19"/></g><g fill="#6EF23B"><rect x="639.03" y="523.68" width="2.1" height="3.06"/></g><g fill="#3DEE56"><rect x="639.03" y="519.62" width="2.1" height="3.06"/></g><g fill="#3DE8A8"><rect x="639.03" y="511.50" width="2.1" height="7.13"/></g><g fill="#3CC8DC"><rect x="639.03" y="503.37" width="2.1" height="7.13"/></g><g fill="#3677CF"><rect x="639.03" y="470.87" width="2.1" height="31.50"/></g><g fill="#6C2DA6"><rect x="639.03" y="454.61" width="2.1" height="15.25"/></g><g fill="#FDB927"><rect x="640.58" y="539.94" width="2.1" height="3.06"/></g><g fill="#D6FA2D"><rect x="640.58" y="523.68" width="2.1" height="15.25"/></g><g fill="#3DEE56"><rect x="640.58" y="511.50" width="2.1" height="11.19"/></g><g fill="#3DE8A8"><rect x="640.58" y="503.37" width="2.1" height="7.13"/></g><g fill="#3CC8DC"><rect x="640.58" y="483.06" width="2.1" height="19.31"/></g><g fill="#3677CF"><rect x="640.58" y="474.93" width="2.1" height="7.13"/></g><g fill="#3833BD"><rect x="640.58" y="470.87" width="2.1" height="3.06"/></g><g fill="#6C2DA6"><rect x="640.58" y="458.68" width="2.1" height="11.19"/></g><g fill="#8E258F"><rect x="640.58" y="442.43" width="2.1" height="15.25"/></g><g fill="#7A1F49"><rect x="640.58" y="438.36" width="2.1" height="3.06"/></g><g fill="#D6FA2D"><rect x="642.13" y="527.75" width="2.1" height="15.25"/></g><g fill="#6EF23B"><rect x="642.13" y="511.50" width="2.1" height="15.25"/></g><g fill="#3DEE56"><rect x="642.13" y="499.31" width="2.1" height="11.19"/></g><g fill="#3DE8A8"><rect x="642.13" y="483.06" width="2.1" height="15.25"/></g><g fill="#3CC8DC"><rect x="642.13" y="466.80" width="2.1" height="15.25"/></g><g fill="#3677CF"><rect x="642.13" y="462.74" width="2.1" height="3.06"/></g><g fill="#3833BD"><rect x="642.13" y="458.68" width="2.1" height="3.06"/></g><g fill="#6C2DA6"><rect x="642.13" y="454.61" width="2.1" height="3.06"/></g><g fill="#FDB927"><rect x="643.68" y="539.94" width="2.1" height="3.06"/></g><g fill="#D6FA2D"><rect x="643.68" y="523.68" width="2.1" height="15.25"/></g><g fill="#6EF23B"><rect x="643.68" y="483.06" width="2.1" height="39.63"/></g><g fill="#3DEE56"><rect x="643.68" y="446.49" width="2.1" height="35.57"/></g><g fill="#3DE8A8"><rect x="643.68" y="405.86" width="2.1" height="39.63"/></g><g fill="#3CC8DC"><rect x="643.68" y="357.10" width="2.1" height="47.76"/></g><g fill="#3833BD"><rect x="643.68" y="283.97" width="2.1" height="72.13"/></g><g fill="#6C2DA6"><rect x="643.68" y="198.65" width="2.1" height="84.32"/></g><g fill="#8E258F"><rect x="643.68" y="162.08" width="2.1" height="35.57"/></g><g fill="#7A1F49"><rect x="643.68" y="158.02" width="2.1" height="3.06"/></g><g fill="#FDB927"><rect x="645.24" y="539.94" width="2.1" height="3.06"/></g><g fill="#D6FA2D"><rect x="645.24" y="527.75" width="2.1" height="11.19"/></g><g fill="#6EF23B"><rect x="645.24" y="515.56" width="2.1" height="11.19"/></g><g fill="#3DEE56"><rect x="645.24" y="503.37" width="2.1" height="11.19"/></g><g fill="#3DE8A8"><rect x="645.24" y="491.18" width="2.1" height="11.19"/></g><g fill="#3CC8DC"><rect x="645.24" y="454.61" width="2.1" height="35.57"/></g><g fill="#3677CF"><rect x="645.24" y="450.55" width="2.1" height="3.06"/></g><g fill="#3833BD"><rect x="645.24" y="426.17" width="2.1" height="23.38"/></g><g fill="#6C2DA6"><rect x="645.24" y="377.42" width="2.1" height="47.76"/></g><g fill="#8E258F"><rect x="645.24" y="365.23" width="2.1" height="11.19"/></g><g fill="#FDB927"><rect x="646.79" y="539.94" width="2.1" height="3.06"/></g><g fill="#FFF12E"><rect x="646.79" y="535.87" width="2.1" height="3.06"/></g><g fill="#D6FA2D"><rect x="646.79" y="523.68" width="2.1" height="11.19"/></g><g fill="#6EF23B"><rect x="646.79" y="511.50" width="2.1" height="11.19"/></g><g fill="#3DEE56"><rect x="646.79" y="507.43" width="2.1" height="3.06"/></g><g fill="#3DE8A8"><rect x="646.79" y="495.24" width="2.1" height="11.19"/></g><g fill="#3CC8DC"><rect x="646.79" y="474.93" width="2.1" height="19.31"/></g><g fill="#3833BD"><rect x="646.79" y="470.87" width="2.1" height="3.06"/></g><g fill="#6C2DA6"><rect x="646.79" y="458.68" width="2.1" height="11.19"/></g><g fill="#FDB927"><rect x="648.34" y="539.94" width="2.1" height="3.06"/></g><g fill="#D6FA2D"><rect x="648.34" y="523.68" width="2.1" height="15.25"/></g><g fill="#6EF23B"><rect x="648.34" y="515.56" width="2.1" height="7.13"/></g><g fill="#3DEE56"><rect x="648.34" y="507.43" width="2.1" height="7.13"/></g><g fill="#3DE8A8"><rect x="648.34" y="503.37" width="2.1" height="3.06"/></g><g fill="#3CC8DC"><rect x="648.34" y="474.93" width="2.1" height="27.44"/></g><g fill="#3677CF"><rect x="648.34" y="466.80" width="2.1" height="7.13"/></g><g fill="#FDB927"><rect x="649.89" y="535.87" width="2.1" height="7.13"/></g><g fill="#D6FA2D"><rect x="649.89" y="523.68" width="2.1" height="11.19"/></g><g fill="#6EF23B"><rect x="649.89" y="503.37" width="2.1" height="19.31"/></g><g fill="#3DE8A8"><rect x="649.89" y="495.24" width="2.1" height="7.13"/></g><g fill="#3CC8DC"><rect x="649.89" y="474.93" width="2.1" height="19.31"/></g><g fill="#3677CF"><rect x="649.89" y="462.74" width="2.1" height="11.19"/></g><g fill="#3833BD"><rect x="649.89" y="450.55" width="2.1" height="11.19"/></g><g fill="#6C2DA6"><rect x="649.89" y="430.24" width="2.1" height="19.31"/></g><g fill="#7A1F49"><rect x="649.89" y="426.17" width="2.1" height="3.06"/></g><g fill="#FDB927"><rect x="651.45" y="539.94" width="2.1" height="3.06"/></g><g fill="#FFF12E"><rect x="651.45" y="535.87" width="2.1" height="3.06"/></g><g fill="#D6FA2D"><rect x="651.45" y="527.75" width="2.1" height="7.13"/></g><g fill="#6EF23B"><rect x="651.45" y="495.24" width="2.1" height="31.50"/></g><g fill="#3DEE56"><rect x="651.45" y="491.18" width="2.1" height="3.06"/></g><g fill="#3DE8A8"><rect x="651.45" y="483.06" width="2.1" height="7.13"/></g><g fill="#3CC8DC"><rect x="651.45" y="470.87" width="2.1" height="11.19"/></g><g fill="#3677CF"><rect x="651.45" y="446.49" width="2.1" height="23.38"/></g><g fill="#3833BD"><rect x="651.45" y="397.73" width="2.1" height="47.76"/></g><g fill="#6C2DA6"><rect x="651.45" y="373.35" width="2.1" height="23.38"/></g><g fill="#8E258F"><rect x="651.45" y="361.17" width="2.1" height="11.19"/></g><g fill="#D6FA2D"><rect x="653.00" y="539.94" width="2.1" height="3.06"/></g><g fill="#6EF23B"><rect x="653.00" y="523.68" width="2.1" height="15.25"/></g><g fill="#3DEE56"><rect x="653.00" y="519.62" width="2.1" height="3.06"/></g><g fill="#3DE8A8"><rect x="653.00" y="515.56" width="2.1" height="3.06"/></g><g fill="#3CC8DC"><rect x="653.00" y="503.37" width="2.1" height="11.19"/></g><g fill="#3677CF"><rect x="653.00" y="487.12" width="2.1" height="15.25"/></g><g fill="#3833BD"><rect x="653.00" y="446.49" width="2.1" height="39.63"/></g><g fill="#8E258F"><rect x="653.00" y="426.17" width="2.1" height="19.31"/></g><g fill="#FFF12E"><rect x="654.55" y="535.87" width="2.1" height="7.13"/></g><g fill="#D6FA2D"><rect x="654.55" y="531.81" width="2.1" height="3.06"/></g><g fill="#6EF23B"><rect x="654.55" y="519.62" width="2.1" height="11.19"/></g><g fill="#3DEE56"><rect x="654.55" y="511.50" width="2.1" height="7.13"/></g><g fill="#3DE8A8"><rect x="654.55" y="495.24" width="2.1" height="15.25"/></g><g fill="#3677CF"><rect x="654.55" y="478.99" width="2.1" height="15.25"/></g><g fill="#3833BD"><rect x="654.55" y="474.93" width="2.1" height="3.06"/></g><g fill="#6C2DA6"><rect x="654.55" y="470.87" width="2.1" height="3.06"/></g><g fill="#D6FA2D"><rect x="656.10" y="527.75" width="2.1" height="15.25"/></g><g fill="#6EF23B"><rect x="656.10" y="515.56" width="2.1" height="11.19"/></g><g fill="#3DEE56"><rect x="656.10" y="507.43" width="2.1" height="7.13"/></g><g fill="#3DE8A8"><rect x="656.10" y="503.37" width="2.1" height="3.06"/></g><g fill="#3CC8DC"><rect x="656.10" y="470.87" width="2.1" height="31.50"/></g><g fill="#3677CF"><rect x="656.10" y="458.68" width="2.1" height="11.19"/></g><g fill="#6C2DA6"><rect x="656.10" y="446.49" width="2.1" height="11.19"/></g><g fill="#8E258F"><rect x="656.10" y="442.43" width="2.1" height="3.06"/></g><g fill="#7A1F49"><rect x="656.10" y="438.36" width="2.1" height="3.06"/></g><g fill="#D6FA2D"><rect x="657.65" y="515.56" width="2.1" height="27.44"/></g><g fill="#6EF23B"><rect x="657.65" y="495.24" width="2.1" height="19.31"/></g><g fill="#3DEE56"><rect x="657.65" y="487.12" width="2.1" height="7.13"/></g><g fill="#3DE8A8"><rect x="657.65" y="483.06" width="2.1" height="3.06"/></g><g fill="#3CC8DC"><rect x="657.65" y="466.80" width="2.1" height="15.25"/></g><g fill="#3677CF"><rect x="657.65" y="434.30" width="2.1" height="31.50"/></g><g fill="#3833BD"><rect x="657.65" y="418.05" width="2.1" height="15.25"/></g><g fill="#8E258F"><rect x="657.65" y="413.98" width="2.1" height="3.06"/></g><g fill="#FFF12E"><rect x="659.21" y="539.94" width="2.1" height="3.06"/></g><g fill="#D6FA2D"><rect x="659.21" y="531.81" width="2.1" height="7.13"/></g><g fill="#6EF23B"><rect x="659.21" y="511.50" width="2.1" height="19.31"/></g><g fill="#3DEE56"><rect x="659.21" y="507.43" width="2.1" height="3.06"/></g><g fill="#3DE8A8"><rect x="659.21" y="503.37" width="2.1" height="3.06"/></g><g fill="#3CC8DC"><rect x="659.21" y="499.31" width="2.1" height="3.06"/></g><g fill="#3677CF"><rect x="659.21" y="491.18" width="2.1" height="7.13"/></g><g fill="#3833BD"><rect x="659.21" y="487.12" width="2.1" height="3.06"/></g><g fill="#6C2DA6"><rect x="659.21" y="462.74" width="2.1" height="23.38"/></g><g fill="#FDB927"><rect x="660.76" y="539.94" width="2.1" height="3.06"/></g><g fill="#FFF12E"><rect x="660.76" y="531.81" width="2.1" height="7.13"/></g><g fill="#6EF23B"><rect x="660.76" y="527.75" width="2.1" height="3.06"/></g><g fill="#3DEE56"><rect x="660.76" y="519.62" width="2.1" height="7.13"/></g><g fill="#3DE8A8"><rect x="660.76" y="515.56" width="2.1" height="3.06"/></g><g fill="#3CC8DC"><rect x="660.76" y="511.50" width="2.1" height="3.06"/></g><g fill="#3677CF"><rect x="660.76" y="507.43" width="2.1" height="3.06"/></g><g fill="#3833BD"><rect x="660.76" y="499.31" width="2.1" height="7.13"/></g><g fill="#6C2DA6"><rect x="660.76" y="491.18" width="2.1" height="7.13"/></g><g fill="#8E258F"><rect x="660.76" y="483.06" width="2.1" height="7.13"/></g><g fill="#D6FA2D"><rect x="662.31" y="535.87" width="2.1" height="7.13"/></g><g fill="#6EF23B"><rect x="662.31" y="527.75" width="2.1" height="7.13"/></g><g fill="#3DEE56"><rect x="662.31" y="523.68" width="2.1" height="3.06"/></g><g fill="#3CC8DC"><rect x="662.31" y="519.62" width="2.1" height="3.06"/></g><g fill="#3677CF"><rect x="662.31" y="511.50" width="2.1" height="7.13"/></g><g fill="#3833BD"><rect x="662.31" y="503.37" width="2.1" height="7.13"/></g><g fill="#6C2DA6"><rect x="662.31" y="495.24" width="2.1" height="7.13"/></g><g fill="#FFF12E"><rect x="663.86" y="539.94" width="2.1" height="3.06"/></g><g fill="#D6FA2D"><rect x="663.86" y="535.87" width="2.1" height="3.06"/></g><g fill="#3DEE56"><rect x="663.86" y="531.81" width="2.1" height="3.06"/></g><g fill="#3DE8A8"><rect x="663.86" y="519.62" width="2.1" height="11.19"/></g><g fill="#3CC8DC"><rect x="663.86" y="507.43" width="2.1" height="11.19"/></g><g fill="#3677CF"><rect x="663.86" y="491.18" width="2.1" height="15.25"/></g><g fill="#3833BD"><rect x="663.86" y="487.12" width="2.1" height="3.06"/></g><g fill="#6C2DA6"><rect x="663.86" y="470.87" width="2.1" height="15.25"/></g><g fill="#8E258F"><rect x="663.86" y="462.74" width="2.1" height="7.13"/></g><g fill="#D6FA2D"><rect x="665.42" y="531.81" width="2.1" height="11.19"/></g><g fill="#6EF23B"><rect x="665.42" y="523.68" width="2.1" height="7.13"/></g><g fill="#3677CF"><rect x="665.42" y="515.56" width="2.1" height="7.13"/></g><g fill="#6C2DA6"><rect x="665.42" y="511.50" width="2.1" height="3.06"/></g><g fill="#FFF12E"><rect x="666.97" y="539.94" width="2.1" height="3.06"/></g><g fill="#6EF23B"><rect x="666.97" y="535.87" width="2.1" height="3.06"/></g><g fill="#3DEE56"><rect x="666.97" y="531.81" width="2.1" height="3.06"/></g><g fill="#3DE8A8"><rect x="666.97" y="527.75" width="2.1" height="3.06"/></g><g fill="#3CC8DC"><rect x="666.97" y="519.62" width="2.1" height="7.13"/></g><g fill="#3677CF"><rect x="666.97" y="511.50" width="2.1" height="7.13"/></g><g fill="#8E258F"><rect x="666.97" y="507.43" width="2.1" height="3.06"/></g><g fill="#FFF12E"><rect x="668.52" y="539.94" width="2.1" height="3.06"/></g><g fill="#D6FA2D"><rect x="668.52" y="527.75" width="2.1" height="11.19"/></g><g fill="#6EF23B"><rect x="668.52" y="523.68" width="2.1" height="3.06"/></g><g fill="#3DE8A8"><rect x="668.52" y="515.56" width="2.1" height="7.13"/></g><g fill="#3CC8DC"><rect x="668.52" y="499.31" width="2.1" height="15.25"/></g><g fill="#3677CF"><rect x="668.52" y="495.24" width="2.1" height="3.06"/></g><g fill="#3833BD"><rect x="668.52" y="483.06" width="2.1" height="11.19"/></g><g fill="#6C2DA6"><rect x="668.52" y="470.87" width="2.1" height="11.19"/></g><g fill="#8E258F"><rect x="668.52" y="462.74" width="2.1" height="7.13"/></g><g fill="#7A1F49"><rect x="668.52" y="458.68" width="2.1" height="3.06"/></g><g fill="#6EF23B"><rect x="670.07" y="539.94" width="2.1" height="3.06"/></g><g fill="#3DE8A8"><rect x="670.07" y="535.87" width="2.1" height="3.06"/></g><g fill="#3CC8DC"><rect x="670.07" y="531.81" width="2.1" height="3.06"/></g><g fill="#3677CF"><rect x="670.07" y="527.75" width="2.1" height="3.06"/></g><g fill="#3833BD"><rect x="670.07" y="523.68" width="2.1" height="3.06"/></g><g fill="#8E258F"><rect x="670.07" y="511.50" width="2.1" height="11.19"/></g><g fill="#D6FA2D"><rect x="671.63" y="539.94" width="2.1" height="3.06"/></g><g fill="#6EF23B"><rect x="671.63" y="531.81" width="2.1" height="7.13"/></g><g fill="#3DEE56"><rect x="671.63" y="527.75" width="2.1" height="3.06"/></g><g fill="#3DE8A8"><rect x="671.63" y="523.68" width="2.1" height="3.06"/></g><g fill="#3677CF"><rect x="671.63" y="519.62" width="2.1" height="3.06"/></g><g fill="#6C2DA6"><rect x="671.63" y="507.43" width="2.1" height="11.19"/></g><g fill="#8E258F"><rect x="671.63" y="503.37" width="2.1" height="3.06"/></g><g fill="#6EF23B"><rect x="673.18" y="539.94" width="2.1" height="3.06"/></g><g fill="#3DEE56"><rect x="673.18" y="535.87" width="2.1" height="3.06"/></g><g fill="#3CC8DC"><rect x="673.18" y="531.81" width="2.1" height="3.06"/></g><g fill="#3833BD"><rect x="673.18" y="523.68" width="2.1" height="7.13"/></g><g fill="#6C2DA6"><rect x="673.18" y="519.62" width="2.1" height="3.06"/></g><g fill="#8E258F"><rect x="673.18" y="511.50" width="2.1" height="7.13"/></g><g fill="#7A1F49"><rect x="673.18" y="507.43" width="2.1" height="3.06"/></g><g fill="#D6FA2D"><rect x="674.73" y="535.87" width="2.1" height="7.13"/></g><g fill="#6EF23B"><rect x="674.73" y="527.75" width="2.1" height="7.13"/></g><g fill="#3DE8A8"><rect x="674.73" y="523.68" width="2.1" height="3.06"/></g><g fill="#3677CF"><rect x="674.73" y="519.62" width="2.1" height="3.06"/></g><g fill="#3833BD"><rect x="674.73" y="507.43" width="2.1" height="11.19"/></g><g fill="#6C2DA6"><rect x="674.73" y="499.31" width="2.1" height="7.13"/></g><g fill="#D6FA2D"><rect x="676.28" y="535.87" width="2.1" height="7.13"/></g><g fill="#3DEE56"><rect x="676.28" y="527.75" width="2.1" height="7.13"/></g><g fill="#3CC8DC"><rect x="676.28" y="523.68" width="2.1" height="3.06"/></g><g fill="#3833BD"><rect x="676.28" y="515.56" width="2.1" height="7.13"/></g><g fill="#6C2DA6"><rect x="676.28" y="511.50" width="2.1" height="3.06"/></g><g fill="#D6FA2D"><rect x="677.84" y="531.81" width="2.1" height="11.19"/></g><g fill="#6EF23B"><rect x="677.84" y="527.75" width="2.1" height="3.06"/></g><g fill="#3DE8A8"><rect x="677.84" y="523.68" width="2.1" height="3.06"/></g><g fill="#3833BD"><rect x="677.84" y="519.62" width="2.1" height="3.06"/></g><g fill="#6C2DA6"><rect x="677.84" y="495.24" width="2.1" height="23.38"/></g><g fill="#8E258F"><rect x="677.84" y="487.12" width="2.1" height="7.13"/></g><g fill="#D6FA2D"><rect x="679.39" y="539.94" width="2.1" height="3.06"/></g><g fill="#6EF23B"><rect x="679.39" y="535.87" width="2.1" height="3.06"/></g><g fill="#3CC8DC"><rect x="679.39" y="515.56" width="2.1" height="19.31"/></g><g fill="#3833BD"><rect x="679.39" y="495.24" width="2.1" height="19.31"/></g><g fill="#8E258F"><rect x="679.39" y="478.99" width="2.1" height="15.25"/></g><g fill="#3DEE56"><rect x="680.94" y="539.94" width="2.1" height="3.06"/></g><g fill="#3833BD"><rect x="680.94" y="531.81" width="2.1" height="7.13"/></g><g fill="#6C2DA6"><rect x="680.94" y="527.75" width="2.1" height="3.06"/></g><g fill="#8E258F"><rect x="680.94" y="519.62" width="2.1" height="7.13"/></g><g fill="#3DE8A8"><rect x="682.49" y="539.94" width="2.1" height="3.06"/></g><g fill="#3CC8DC"><rect x="682.49" y="535.87" width="2.1" height="3.06"/></g><g fill="#3833BD"><rect x="682.49" y="531.81" width="2.1" height="3.06"/></g><g fill="#6C2DA6"><rect x="682.49" y="527.75" width="2.1" height="3.06"/></g><g fill="#8E258F"><rect x="682.49" y="523.68" width="2.1" height="3.06"/></g><g fill="#3CC8DC"><rect x="684.05" y="535.87" width="2.1" height="7.13"/></g><g fill="#3833BD"><rect x="684.05" y="531.81" width="2.1" height="3.06"/></g><g fill="#7A1F49"><rect x="685.60" y="539.94" width="2.1" height="3.06"/></g><g fill="#3DEE56"><rect x="687.15" y="539.94" width="2.1" height="3.06"/></g><g fill="#3DE8A8"><rect x="687.15" y="535.87" width="2.1" height="3.06"/></g><g fill="#6C2DA6"><rect x="687.15" y="531.81" width="2.1" height="3.06"/></g><g fill="#D6FA2D"><rect x="688.70" y="539.94" width="2.1" height="3.06"/></g><g fill="#3DE8A8"><rect x="688.70" y="535.87" width="2.1" height="3.06"/></g><g fill="#6C2DA6"><rect x="688.70" y="531.81" width="2.1" height="3.06"/></g><g fill="#8E258F"><rect x="688.70" y="527.75" width="2.1" height="3.06"/></g><g fill="#6EF23B"><rect x="690.26" y="539.94" width="2.1" height="3.06"/></g><g fill="#3CC8DC"><rect x="690.26" y="535.87" width="2.1" height="3.06"/></g><g fill="#3677CF"><rect x="690.26" y="531.81" width="2.1" height="3.06"/></g><g fill="#6C2DA6"><rect x="691.81" y="535.87" width="2.1" height="7.13"/></g><g fill="#8E258F"><rect x="691.81" y="531.81" width="2.1" height="3.06"/></g><g fill="#D6FA2D"><rect x="694.91" y="539.94" width="2.1" height="3.06"/></g><g fill="#3DE8A8"><rect x="696.46" y="539.94" width="2.1" height="3.06"/></g><g fill="#3833BD"><rect x="696.46" y="535.87" width="2.1" height="3.06"/></g><g fill="#3677CF"><rect x="699.57" y="539.94" width="2.1" height="3.06"/></g><g fill="#3DEE56"><rect x="701.12" y="535.87" width="2.1" height="7.13"/></g><g fill="#6EF23B"><rect x="702.67" y="535.87" width="2.1" height="7.13"/><rect x="704.23" y="531.81" width="2.1" height="11.19"/></g><g fill="#FDB927"><rect x="705.78" y="539.94" width="2.1" height="3.06"/></g><g fill="#6EF23B"><rect x="705.78" y="531.81" width="2.1" height="7.13"/><rect x="707.33" y="539.94" width="2.1" height="3.06"/><rect x="708.88" y="539.94" width="2.1" height="3.06"/><rect x="710.44" y="539.94" width="2.1" height="3.06"/></g><g fill="#3CC8DC"><rect x="710.44" y="535.87" width="2.1" height="3.06"/></g><g fill="#3833BD"><rect x="711.99" y="539.94" width="2.1" height="3.06"/></g><g fill="#8E258F"><rect x="718.20" y="539.94" width="2.1" height="3.06"/></g><g fill="#3CC8DC"><rect x="719.75" y="539.94" width="2.1" height="3.06"/></g><g fill="#D6FA2D"><rect x="721.30" y="539.94" width="2.1" height="3.06"/></g><g fill="#3DE8A8"><rect x="721.30" y="535.87" width="2.1" height="3.06"/></g><g fill="#D6FA2D"><rect x="727.51" y="539.94" width="2.1" height="3.06"/></g><g fill="#6EF23B"><rect x="732.17" y="531.81" width="2.1" height="11.19"/></g><g fill="#3DE8A8"><rect x="733.72" y="539.94" width="2.1" height="3.06"/></g><g fill="#3833BD"><rect x="733.72" y="535.87" width="2.1" height="3.06"/></g><g fill="#3CC8DC"><rect x="735.27" y="539.94" width="2.1" height="3.06"/></g><g fill="#D6FA2D"><rect x="736.83" y="539.94" width="2.1" height="3.06"/></g><g fill="#3DE8A8"><rect x="743.04" y="539.94" width="2.1" height="3.06"/></g><g fill="#6C2DA6"><rect x="743.04" y="535.87" width="2.1" height="3.06"/></g><g fill="#D6FA2D"><rect x="744.59" y="539.94" width="2.1" height="3.06"/></g><g fill="#3DEE56"><rect x="744.59" y="535.87" width="2.1" height="3.06"/></g><g fill="#3677CF"><rect x="744.59" y="531.81" width="2.1" height="3.06"/></g><g fill="#6EF23B"><rect x="746.14" y="539.94" width="2.1" height="3.06"/><rect x="747.69" y="539.94" width="2.1" height="3.06"/><rect x="749.25" y="539.94" width="2.1" height="3.06"/></g><g fill="#3CC8DC"><rect x="749.25" y="535.87" width="2.1" height="3.06"/></g><g fill="#8E258F"><rect x="749.25" y="531.81" width="2.1" height="3.06"/></g><g fill="#3DEE56"><rect x="752.35" y="539.94" width="2.1" height="3.06"/></g><g fill="#3677CF"><rect x="752.35" y="531.81" width="2.1" height="7.13"/></g><g fill="#D6FA2D"><rect x="753.90" y="535.87" width="2.1" height="7.13"/></g><g fill="#3DE8A8"><rect x="753.90" y="531.81" width="2.1" height="3.06"/></g><g fill="#3CC8DC"><rect x="753.90" y="523.68" width="2.1" height="7.13"/></g><g fill="#3677CF"><rect x="753.90" y="519.62" width="2.1" height="3.06"/><rect x="755.46" y="531.81" width="2.1" height="11.19"/></g><g fill="#3DEE56"><rect x="757.01" y="539.94" width="2.1" height="3.06"/></g><g fill="#3DE8A8"><rect x="757.01" y="535.87" width="2.1" height="3.06"/></g><g fill="#6C2DA6"><rect x="757.01" y="531.81" width="2.1" height="3.06"/></g></g>
</svg>
</body></html>
